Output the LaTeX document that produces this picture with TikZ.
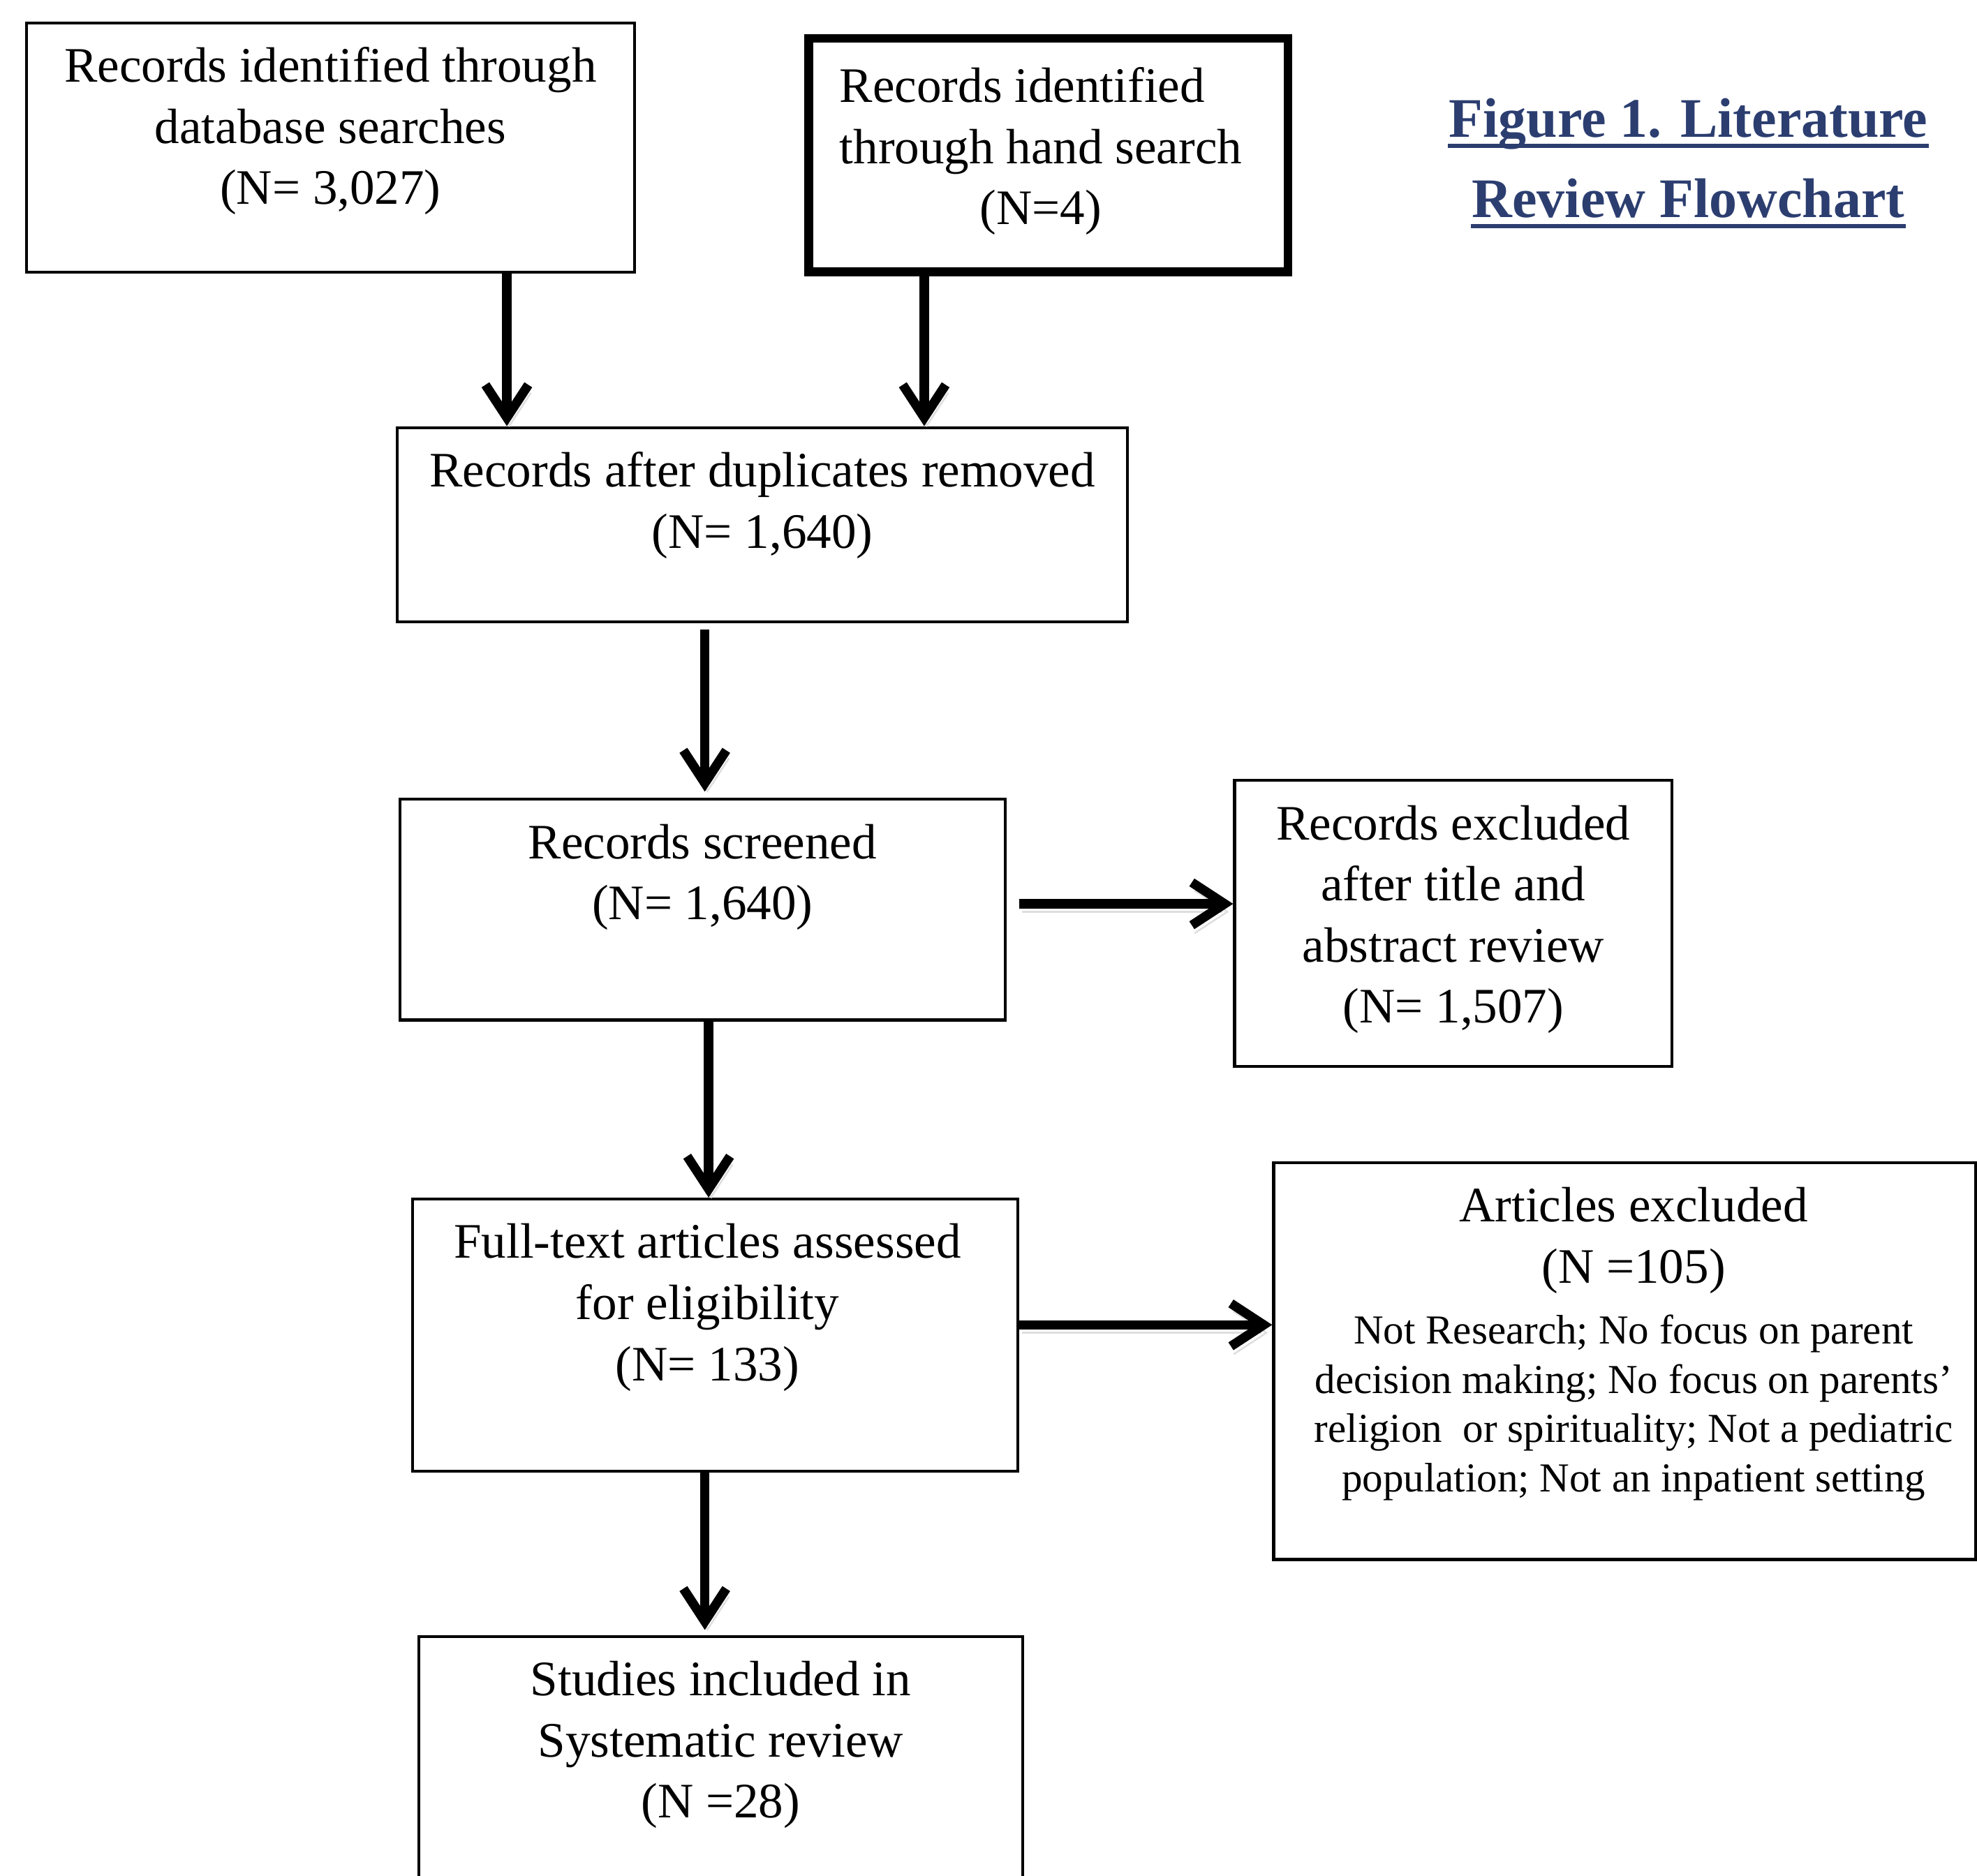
\documentclass[tikz,border=0pt]{standalone}
\usepackage{fontspec}
\setmainfont{Liberation Serif}
\usepackage{xcolor}
\usetikzlibrary{positioning}
\usetikzlibrary{arrows.meta}

\definecolor{titleblue}{RGB}{44,62,112}

\tikzset{
box/.style={draw, line width=0.65pt, anchor=north west, inner sep=0pt},
txt/.style={below=0.5pt, font=\fontsize{11.2}{13.8}\selectfont},
arr/.style={line width=2.1pt, -{Straight Barb[length=2.6mm,width=3.4mm]},
  preaction={draw=black!13, transform canvas={xshift=0.6pt, yshift=-1.8pt}}},
title/.style={anchor=base, inner sep=0pt, text=titleblue, font=\bfseries\fontsize{12.6}{18.1}\selectfont}
}

\begin{document}
\begin{tikzpicture}

\useasboundingbox (0,0) rectangle (15.68,-14.88);

% boxes
\node[box, minimum width=4.82cm, minimum height=1.98cm,
label={[txt]north:{\begin{tabular}{c} Records identified through \\ database searches \\ (N= 3,027) \end{tabular}}}]
(dbs) at (0.20,-0.17) {};

\node[box, line width=2pt, minimum width=3.80cm, minimum height=1.85cm,
label={[txt, below=2.2pt, xshift=-0.06cm]north:{\begin{tabular}{l} Records identified \\ through hand search \\ \multicolumn{1}{c}{(N=4)} \end{tabular}}}]
(hand) at (6.38,-0.27) {};

\node[box, minimum width=5.79cm, minimum height=1.54cm,
label={[txt]north:{\begin{tabular}{c} Records after duplicates removed \\ (N= 1,640) \end{tabular}}}]
(dup) at (3.14,-3.38) {};

\node[box, minimum width=4.80cm, minimum height=1.75cm,
label={[txt]north:{\begin{tabular}{c} Records screened \\ (N= 1,640) \end{tabular}}}]
(scr) at (3.16,-6.33) {};

\node[box, minimum width=3.47cm, minimum height=2.27cm,
label={[txt]north:{\begin{tabular}{c} Records excluded \\ after title and \\ abstract review \\ (N= 1,507) \end{tabular}}}]
(exc) at (9.78,-6.18) {};

\node[box, minimum width=4.80cm, minimum height=2.16cm,
label={[txt, xshift=-0.06cm]north:{\begin{tabular}{c} Full-text articles assessed \\ for eligibility \\ (N= 133) \end{tabular}}}]
(ful) at (3.26,-9.50) {};

\node[box, minimum width=5.57cm, minimum height=3.15cm,
label={[txt, xshift=0.07cm]north:{\begin{tabular}{c} Articles excluded \\ (N =105) \\
{\fontsize{9.3}{11.1}\selectfont\begin{tabular}[t]{c} Not Research; No focus on parent \\ decision making; No focus on parents' \\ religion\ \ or spirituality; Not a pediatric \\ population; Not an inpatient setting \end{tabular}} \end{tabular}}}]
(art) at (10.09,-9.21) {};

\node[box, minimum width=4.79cm, minimum height=2.40cm,
label={[txt]north:{\begin{tabular}{c} Studies included in \\ Systematic review \\ (N =28) \end{tabular}}}]
(inc) at (3.31,-12.97) {};

% title, underlined line by line
\node[title] (ttla) at (13.39,-1.09) {Figure 1. Literature};
\node[title] (ttlb) at (13.39,-1.726) {Review Flowchart};
\draw[titleblue, line width=0.9pt] ([yshift=-1.9pt]ttla.base west) -- ([yshift=-1.9pt]ttla.base east);
\draw[titleblue, line width=0.9pt] ([yshift=-1.9pt]ttlb.base west) -- ([yshift=-1.9pt]ttlb.base east);

% arrows
\draw[arr] (dbs.south -| 4.02,0) -- (dup.north -| 4.02,0);
\draw[arr] (hand.south -| 7.33,0) -- (dup.north -| 7.33,0);
\draw[arr, shorten <=0.05cm, shorten >=0.05cm] (dup.south -| 5.59,0) -- (scr.north -| 5.59,0);
\draw[arr, shorten <=-0.02cm] (scr.south -| 5.62,0) -- (ful.north -| 5.62,0);
\draw[arr, shorten <=0.1cm] (scr.east |- 0,-7.17) -- (exc.west |- 0,-7.17);
\draw[arr] (ful.east |- 0,-10.51) -- (art.west |- 0,-10.51);
\draw[arr, shorten >=0.04cm] (ful.south -| 5.59,0) -- (inc.north -| 5.59,0);

\end{tikzpicture}
\end{document}
